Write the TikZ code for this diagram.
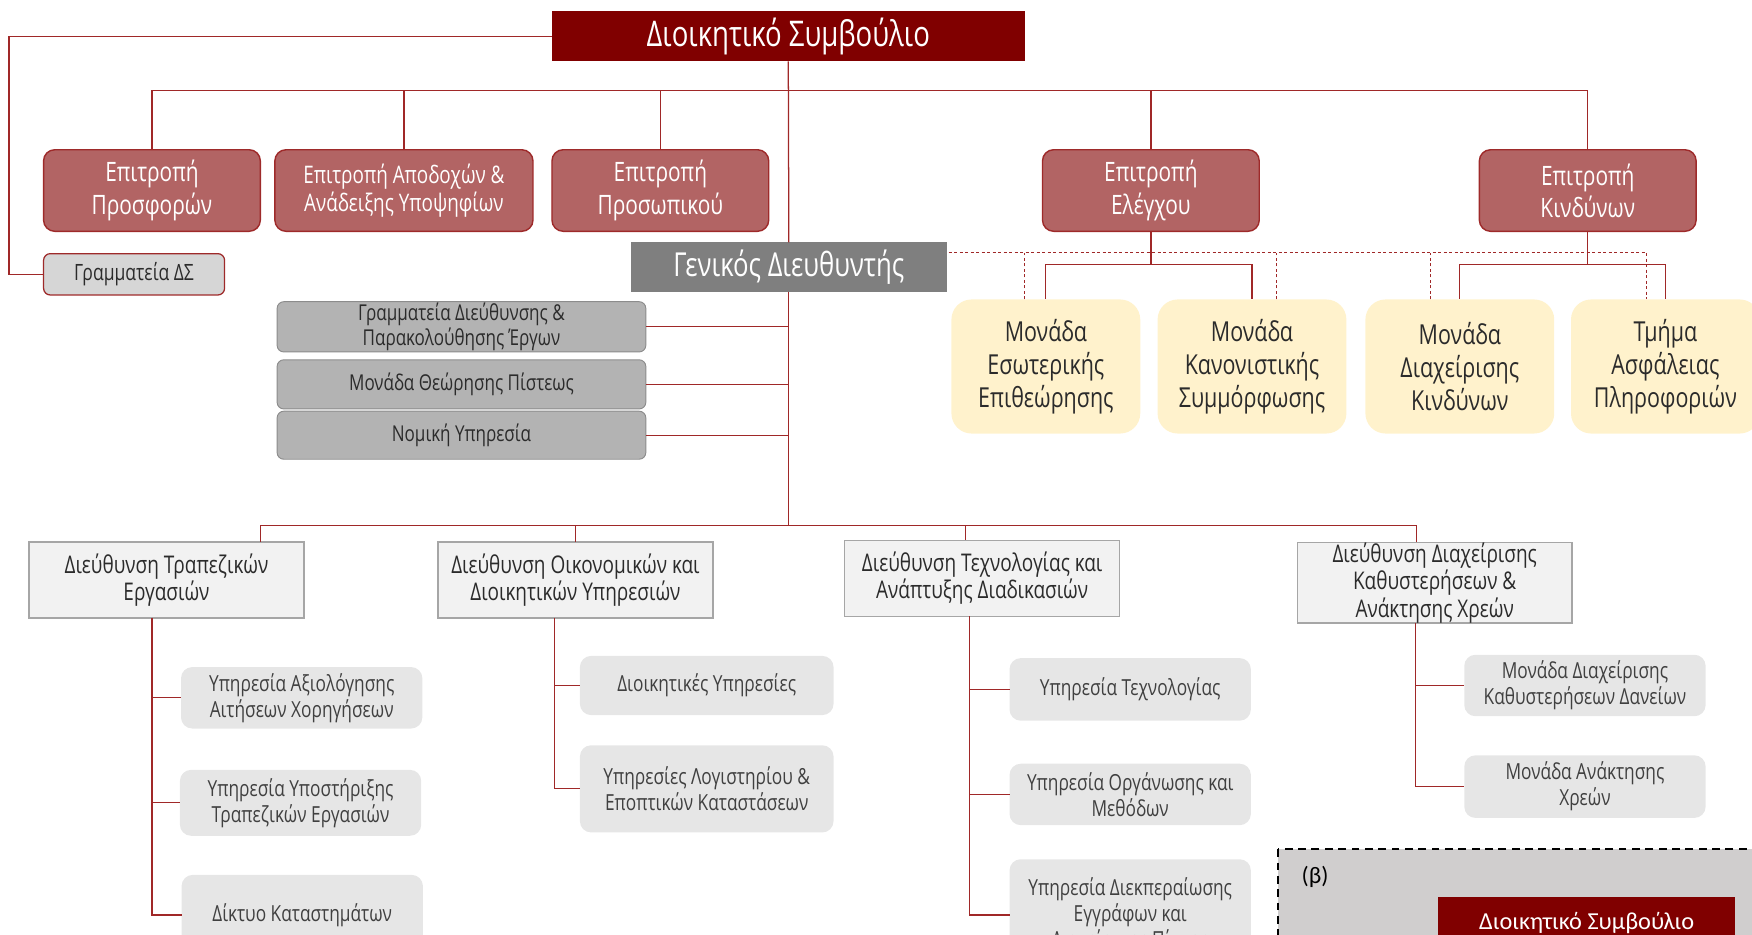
\documentclass[tikz,border=0pt]{standalone}
\usepackage{fontspec}
\setmainfont{Open Sans}[FakeStretch=0.78]
\newfontfamily\insetfont{Carlito}

\definecolor{bordeaux}{HTML}{800000}
\definecolor{commfill}{HTML}{B26464}
\definecolor{commdraw}{HTML}{9E2A2A}
\definecolor{linered}{HTML}{A02828}
\definecolor{gdgray}{HTML}{7F7F7F}
\definecolor{staffgray}{HTML}{B3B3B3}
\definecolor{staffdraw}{HTML}{8C8C8C}
\definecolor{secgray}{HTML}{D6D6D6}
\definecolor{unityellow}{HTML}{FFF2CC}
\definecolor{dirfill}{HTML}{F2F2F2}
\definecolor{dirdraw}{HTML}{A6A6A6}
\definecolor{subfill}{HTML}{E6E6E6}
\definecolor{insetgray}{HTML}{D0CECE}
\definecolor{textdark}{HTML}{2B2B2B}

\tikzset{
  sz/.style 2 args = {minimum width=#1*0.025cm, minimum height=#2*0.025cm},
  box/.style = {inner sep=0pt, outer sep=0pt, align=center},
  board/.style = {box, fill=bordeaux, text=white,
                  font=\fontsize{22.5}{26}\selectfont},
  comm/.style = {box, fill=commfill, draw=commdraw, line width=0.9pt,
                 rounded corners=0.25cm, text=white,
                 font=\fontsize{17}{20.5}\selectfont},
  staff/.style = {box, fill=staffgray, draw=staffdraw, line width=0.6pt,
                  rounded corners=0.15cm, text=textdark,
                  font=\fontsize{13.9}{16.5}\selectfont},
  unit/.style = {box, fill=unityellow, rounded corners=0.45cm, text=textdark,
                 font=\fontsize{17.5}{21}\selectfont},
  direc/.style = {box, fill=dirfill, draw=dirdraw, line width=0.8pt,
                  text=textdark, font=\fontsize{15.5}{17.5}\selectfont},
  sub/.style = {box, fill=subfill, rounded corners=0.25cm, text=textdark!90,
                font=\fontsize{14.1}{16.5}\selectfont},
  link/.style = {draw=linered, line width=0.8pt},
  dashlink/.style = {draw=linered, line width=0.8pt,
                     dash pattern=on 2pt off 1.5pt}
}

\begin{document}
\begin{tikzpicture}[x=0.025cm, y=-0.025cm]
	\useasboundingbox (0,0) rectangle (1568,836);
	\clip (0,0) rectangle (1568,836);

	% Board and general manager
	\node[board, sz={423}{45}] (bod) at (705.5,32.5) {Διοικητικό Συμβούλιο};
	\node[box, sz={283}{44}, fill=gdgray, text=white,
	      font=\fontsize{21}{24}\selectfont] (gd) at (706,239) {Γενικός Διευθυντής};

	% Committees
	\node[comm, sz={194}{73}] (cProsf) at (136,170.5) {Επιτροπή\\Προσφορών};
	\node[comm, sz={231}{73}, font=\fontsize{15.4}{17.5}\selectfont] (cApod) at (361.5,170.5) {Επιτροπή Αποδοχών \&\\Ανάδειξης Υποψηφίων};
	\node[comm, sz={194}{73}] (cPros) at (591,170.5) {Επιτροπή\\Προσωπικού};
	\node[comm, sz={194}{73}] (cEleg) at (1030,170.5) {Επιτροπή\\Ελέγχου};
	\node[comm, sz={194}{73}] (cKind) at (1421,170.5) {Επιτροπή\\Κινδύνων};

	\node[box, sz={162}{37}, fill=secgray, draw=commdraw, line width=0.8pt,
	      rounded corners=0.15cm, text=textdark,
	      font=\fontsize{14.3}{16}\selectfont] (grDS) at (120,245.5) {Γραμματεία ΔΣ};

	% Staff units
	\node[staff, sz={330}{45}] (grDir) at (413,292.5) {Γραμματεία Διεύθυνσης \&\\Παρακολούθησης Έργων};
	\node[staff, sz={330}{44}] (monTh) at (413,344) {Μονάδα Θεώρησης Πίστεως};
	\node[staff, sz={330}{43}] (nom) at (413,389.5) {Νομική Υπηρεσία};

	% Control units
	\node[unit, sz={169}{120}] (mEsot) at (936,328) {Μονάδα\\Εσωτερικής\\Επιθεώρησης};
	\node[unit, sz={169}{120}] (mKan) at (1120.5,328) {Μονάδα\\Κανονιστικής\\Συμμόρφωσης};
	\node[unit, sz={169}{120}] (mDiax) at (1306.5,328) {Μονάδα\\Διαχείρισης\\Κινδύνων};
	\node[unit, sz={169}{120}] (tAsf) at (1490.5,328) {Τμήμα\\Ασφάλειας\\Πληροφοριών};

	% Directorates
	\node[direc, sz={246}{68}] (dTrap) at (149,519) {Διεύθυνση Τραπεζικών\\Εργασιών};
	\node[direc, sz={246}{68}] (dOik) at (515,519) {Διεύθυνση Οικονομικών και\\Διοικητικών Υπηρεσιών};
	\node[direc, sz={246}{68}] (dTech) at (879,517.5) {Διεύθυνση Τεχνολογίας και\\Ανάπτυξης Διαδικασιών};
	\node[direc, sz={246}{69}] (dKath) at (1284,521.5) {Διεύθυνση Διαχείρισης\\Καθυστερήσεων \&\\Ανάκτησης Χρεών};

	% Services
	\node[sub, sz={216}{55}] (yAxiol) at (270,624.5) {Υπηρεσία Αξιολόγησης\\Αιτήσεων Χορηγήσεων};
	\node[sub, sz={216}{59}] (yYpost) at (269,718.5) {Υπηρεσία Υποστήριξης\\Τραπεζικών Εργασιών};
	\node[sub, sz={216}{72}] (dikt) at (270.5,819) {Δίκτυο Καταστημάτων};
	\node[sub, sz={227}{53}] (diokY) at (632.5,613.5) {Διοικητικές Υπηρεσίες};
	\node[sub, sz={227}{78}] (logist) at (632.5,706) {Υπηρεσίες Λογιστηρίου \&\\Εποπτικών Καταστάσεων};
	\node[sub, sz={216}{56}] (yTech) at (1011.5,617) {Υπηρεσία Τεχνολογίας};
	\node[sub, sz={216}{55}] (yOrg) at (1011.5,711) {Υπηρεσία Οργάνωσης και\\Μεθόδων};
	\node[sub, sz={216}{100}] (yDiek) at (1011.5,819) {Υπηρεσία Διεκπεραίωσης\\Εγγράφων και\\Διαχείρισης Πίστης};
	\node[sub, sz={216}{55}] (mDK) at (1418.5,613.5) {Μονάδα Διαχείρισης\\Καθυστερήσεων Δανείων};
	\node[sub, sz={216}{56}] (mAnak) at (1418.5,704) {Μονάδα Ανάκτησης\\Χρεών};

	% Board lines
	\coordinate (leftRail) at (8,32.5);
	\coordinate (busA) at (706,81);
	\coordinate (busB) at (706,470);
	\draw[link] (bod.south) -- (gd.north);
	\draw[link] (gd.south) -- (busB);
	\draw[link] (bod.west) -- (leftRail) |- (grDS.west);
	\draw[link] (busA) -| (cProsf.north);
	\draw[link] (busA) -| (cApod.north);
	\draw[link] (busA) -| (cPros.north);
	\draw[link] (busA) -| (cEleg.north);
	\draw[link] (busA) -| (cKind.north);

	% Staff lines
	\draw[link] (grDir.east) -- (grDir.east -| busB);
	\draw[link] (monTh.east) -- (monTh.east -| busB);
	\draw[link] (nom.east) -- (nom.east -| busB);

	% Committees to units
	\draw[link] (cEleg.south) -- ++(0,30) -| (mEsot.north);
	\draw[link] (cEleg.south) -- ++(0,30) -| (mKan.north);
	\draw[link] (cKind.south) -- ++(0,30) -| (mDiax.north);
	\draw[link] (cKind.south) -- ++(0,30) -| (tAsf.north);

	% General manager to units (dashed)
	\coordinate (gdDash) at (849,226);
	\draw[dashlink] (gdDash) -| ([xshift=-17*0.025cm]tAsf.north);
	\draw[dashlink] ([xshift=-19*0.025cm]mEsot.north) -- ++(0,-42);
	\draw[dashlink] ([xshift=22*0.025cm]mKan.north) -- ++(0,-42);
	\draw[dashlink] ([xshift=-26*0.025cm]mDiax.north) -- ++(0,-42);

	% Directorates
	\draw[link] (busB) -| ([xshift=84*0.025cm]dTrap.north);
	\draw[link] (busB) -| (dOik.north);
	\draw[link] (busB) -| ([xshift=-15*0.025cm]dTech.north);
	\draw[link] (busB) -| ([xshift=-16*0.025cm]dKath.north);

	% Services
	\draw[link] ([xshift=-13*0.025cm]dTrap.south) |- (yAxiol.west);
	\draw[link] ([xshift=-13*0.025cm]dTrap.south) |- (yYpost.west);
	\draw[link] ([xshift=-13*0.025cm]dTrap.south) |- (dikt.west);
	\draw[link] ([xshift=-19*0.025cm]dOik.south) |- (diokY.west);
	\draw[link] ([xshift=-19*0.025cm]dOik.south) |- (logist.west);
	\draw[link] ([xshift=-11*0.025cm]dTech.south) |- (yTech.west);
	\draw[link] ([xshift=-11*0.025cm]dTech.south) |- (yOrg.west);
	\draw[link] ([xshift=-11*0.025cm]dTech.south) |- (yDiek.west);
	\draw[link] ([xshift=-17*0.025cm]dKath.south) |- (mDK.west);
	\draw[link] ([xshift=-17*0.025cm]dKath.south) |- (mAnak.west);

	% Inset (b)
	\draw[fill=insetgray, draw=black, line width=1.3pt,
	      dash pattern=on 5pt off 3.5pt] (1144,760) rectangle (1620,900);
	\node[box, font=\insetfont\fontsize{15}{18}\selectfont, anchor=center] (insetLabel) at (1177,785) {(β)};
	\node[box, sz={266}{46}, fill=bordeaux, text=white,
	      font=\insetfont\fontsize{15.5}{18}\selectfont] (insetBod) at (1420,826) {Διοικητικό Συμβούλιο};

\end{tikzpicture}
\end{document}
